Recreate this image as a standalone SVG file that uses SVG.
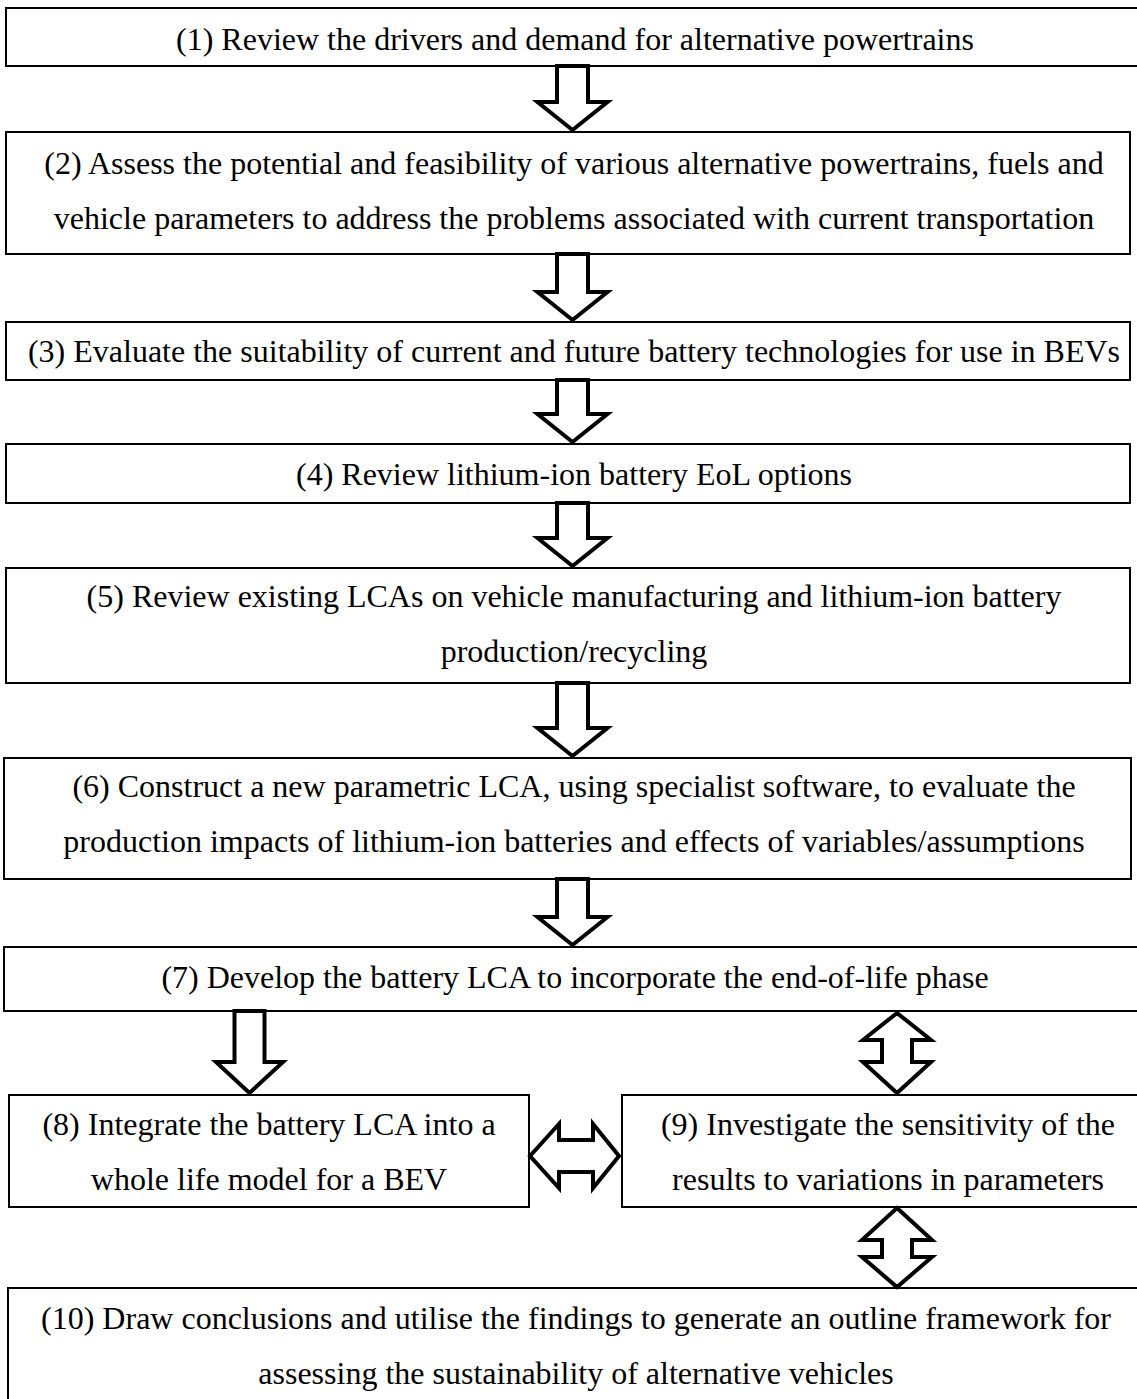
<svg xmlns="http://www.w3.org/2000/svg" width="1137" height="1399" viewBox="0 0 1137 1399">
  <style>
    .box { fill: #fff; stroke: #000; stroke-width: 2; }
    .arrow { fill: #fff; stroke: #000; stroke-width: 4; stroke-linejoin: miter; stroke-miterlimit: 10; }
    .t { font-family: "Liberation Serif", "Times New Roman", serif; font-size: 32px; fill: #000; text-anchor: middle; }
  </style>
  <rect width="1137" height="1399" fill="#fff"/>

  <g id="step1">
    <rect class="box" x="6" y="8" width="1140" height="58"/>
    <text class="t" x="575" y="50">(1) Review the drivers and demand for alternative powertrains</text>
  </g>
  <g id="step2">
    <rect class="box" x="6" y="132" width="1124" height="122"/>
    <text class="t" x="574" y="174">(2) Assess the potential and feasibility of various alternative powertrains, fuels and</text>
    <text class="t" x="574" y="229">vehicle parameters to address the problems associated with current transportation</text>
  </g>
  <g id="step3">
    <rect class="box" x="6" y="322" width="1124" height="58"/>
    <text class="t" x="574" y="362">(3) Evaluate the suitability of current and future battery technologies for use in BEVs</text>
  </g>
  <g id="step4">
    <rect class="box" x="6" y="444" width="1124" height="59"/>
    <text class="t" x="574" y="485">(4) Review lithium-ion battery EoL options</text>
  </g>
  <g id="step5">
    <rect class="box" x="6" y="568" width="1124" height="115"/>
    <text class="t" x="574" y="607">(5) Review existing LCAs on vehicle manufacturing and lithium-ion battery</text>
    <text class="t" x="574" y="662">production/recycling</text>
  </g>
  <g id="step6">
    <rect class="box" x="4" y="758" width="1127" height="121"/>
    <text class="t" x="574" y="797">(6) Construct a new parametric LCA, using specialist software, to evaluate the</text>
    <text class="t" x="574" y="852">production impacts of lithium-ion batteries and effects of variables/assumptions</text>
  </g>
  <g id="step7">
    <rect class="box" x="4" y="947" width="1142" height="64"/>
    <text class="t" x="575" y="988">(7) Develop the battery LCA to incorporate the end-of-life phase</text>
  </g>
  <g id="step8">
    <rect class="box" x="9" y="1095" width="520" height="112"/>
    <text class="t" x="269" y="1135">(8) Integrate the battery LCA into a</text>
    <text class="t" x="269" y="1190">whole life model for a BEV</text>
  </g>
  <g id="step9">
    <rect class="box" x="622" y="1095" width="530" height="112"/>
    <text class="t" x="888" y="1135">(9) Investigate the sensitivity of the</text>
    <text class="t" x="888" y="1190">results to variations in parameters</text>
  </g>
  <g id="step10">
    <rect class="box" x="8" y="1288" width="1144" height="125"/>
    <text class="t" x="576" y="1329">(10) Draw conclusions and utilise the findings to generate an outline framework for</text>
    <text class="t" x="576" y="1384">assessing the sustainability of alternative vehicles</text>
  </g>

  <g id="connectors">
    <!-- block arrows down the main sequence -->
    <path class="arrow" d="M557,66 H588 V102 H607.5 L572.5,130 L537.5,102 H557 Z"/>
    <path class="arrow" d="M557,254 H588 V292 H607.5 L572.5,320 L537.5,292 H557 Z"/>
    <path class="arrow" d="M557,380 H588 V414 H607.5 L572.5,442 L537.5,414 H557 Z"/>
    <path class="arrow" d="M557,503 H588 V538 H607.5 L572.5,566 L537.5,538 H557 Z"/>
    <path class="arrow" d="M557,683 H588 V728 H607.5 L572.5,756 L537.5,728 H557 Z"/>
    <path class="arrow" d="M557,879 H588 V917 H607.5 L572.5,945 L537.5,917 H557 Z"/>
    <!-- step 7 to step 8 -->
    <path class="arrow" d="M234.5,1011 H264.5 V1062 H283 L249.5,1093 L216,1062 H234.5 Z"/>
    <!-- two-way arrows -->
    <path class="arrow" d="M897,1013 L931,1040 H912 V1062 H931 L897,1093 L863,1062 H882 V1040 H863 Z"/>
    <path class="arrow" d="M530,1156 L559,1124 V1140 H593 V1124 L619,1156 L593,1188 V1172 H559 V1188 Z"/>
    <path class="arrow" d="M897,1208 L932,1240 H912 V1257 H932 L897,1287 L862,1257 H882 V1240 H862 Z"/>
  </g>
</svg>
